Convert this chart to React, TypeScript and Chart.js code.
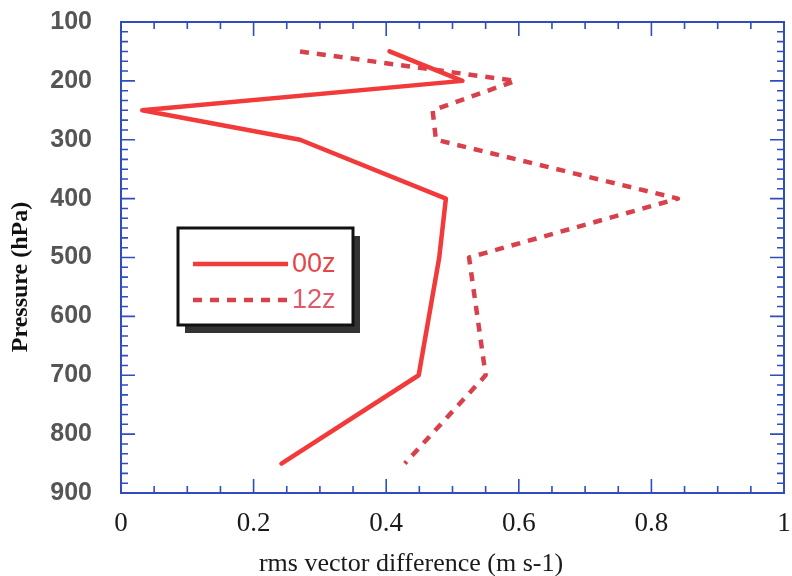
import React, { useEffect, useRef } from "react";
import { Chart, registerables } from "chart.js";

Chart.register(...registerables);

// Pressure levels (hPa)
const levels = [150, 200, 250, 300, 400, 500, 700, 850];
// rms vector difference (m s-1)
const rms00z = [0.405, 0.515, 0.032, 0.27, 0.49, 0.48, 0.449, 0.242];
const rms12z = [0.27, 0.595, 0.47, 0.475, 0.84, 0.525, 0.55, 0.428];
const seriesNames = ["00z", "12z"];
const xTitle = "rms vector difference (m s-1)";
const yTitle = "Pressure (hPa)";

const AXIS_BLUE = "#2f4cc0";
const RED_SOLID = "#f23a3a";
const RED_DASH = "#d8404c";

const framePlugin = {
  id: "frameTicks",
  afterDraw(chart: any) {
    const ctx = chart.ctx;
    const ca = chart.chartArea;
    const xs = chart.scales.x;
    const ys = chart.scales.y;
    ctx.save();
    ctx.strokeStyle = AXIS_BLUE;
    ctx.lineWidth = 2;
    ctx.strokeRect(ca.left, ca.top, ca.right - ca.left, ca.bottom - ca.top);
    ctx.lineWidth = 1.6;
    ctx.beginPath();
    // x ticks every 0.05, major every 0.2
    for (let i = 1; i < 20; i++) {
      const v = i * 0.05;
      const px = xs.getPixelForValue(v);
      const len = i % 4 === 0 ? 14 : 7;
      ctx.moveTo(px, ca.bottom);
      ctx.lineTo(px, ca.bottom - len);
      ctx.moveTo(px, ca.top);
      ctx.lineTo(px, ca.top + len);
    }
    // y ticks, 6 per 100 hPa
    for (let i = 1; i < 48; i++) {
      const v = 100 + (i * 100) / 6;
      const py = ys.getPixelForValue(v);
      const len = i % 6 === 0 ? 14 : 7;
      ctx.moveTo(ca.left, py);
      ctx.lineTo(ca.left + len, py);
      ctx.moveTo(ca.right, py);
      ctx.lineTo(ca.right - len, py);
    }
    ctx.stroke();

    // axis titles
    ctx.fillStyle = "#1a1a1a";
    ctx.font = "26px 'Liberation Serif', serif";
    ctx.textAlign = "center";
    ctx.textBaseline = "alphabetic";
    ctx.fillText(xTitle, 411, 571);

    ctx.save();
    ctx.translate(27, 277);
    ctx.rotate(-Math.PI / 2);
    ctx.font = "bold 24px 'Liberation Serif', serif";
    ctx.fillStyle = "#111";
    ctx.fillText(yTitle, 0, 0);
    ctx.restore();

    // legend box
    const bx = ca.left + 57;
    const by = ca.top + 206;
    const bw = 175;
    const bh = 97;
    ctx.fillStyle = "#333";
    ctx.fillRect(bx + 7, by + 8, bw, bh);
    ctx.fillStyle = "#fff";
    ctx.fillRect(bx, by, bw, bh);
    ctx.strokeStyle = "#111";
    ctx.lineWidth = 3;
    ctx.strokeRect(bx, by, bw, bh);

    const ds = chart.data.datasets;
    const rows = [by + 36, by + 72];
    ds.forEach((d: any, i: number) => {
      ctx.save();
      ctx.strokeStyle = d.borderColor;
      ctx.lineWidth = 4.5;
      ctx.setLineDash(d.borderDash || []);
      ctx.beginPath();
      ctx.moveTo(bx + 15, rows[i]);
      ctx.lineTo(bx + 110, rows[i]);
      ctx.stroke();
      ctx.restore();
      ctx.fillStyle = i === 0 ? "#e84444" : "#e05a6a";
      ctx.font = "27px 'Liberation Sans', Arial, sans-serif";
      ctx.textAlign = "left";
      ctx.textBaseline = "middle";
      ctx.fillText(d.label, bx + 114, rows[i] + 1);
    });
    ctx.restore();
  },
};

const zeroPad = (s: any) => {
  s.paddingTop = 0;
  s.paddingBottom = 0;
  s.paddingLeft = 0;
  s.paddingRight = 0;
};

export default function App() {
  const ref = useRef<HTMLCanvasElement | null>(null);
  useEffect(() => {
    if (!ref.current) return;
    const chart = new Chart(ref.current, {
      type: "scatter",
      data: {
        datasets: [
          {
            label: seriesNames[0],
            data: levels.map((p, i) => ({ x: rms00z[i], y: p })),
            showLine: true,
            borderColor: RED_SOLID,
            backgroundColor: RED_SOLID,
            borderWidth: 4.5,
            pointRadius: 0,
            borderJoinStyle: "round",
            borderCapStyle: "round",
          },
          {
            label: seriesNames[1],
            data: levels.map((p, i) => ({ x: rms12z[i], y: p })),
            showLine: true,
            borderColor: RED_DASH,
            backgroundColor: RED_DASH,
            borderWidth: 4.5,
            borderDash: [9, 8],
            borderJoinStyle: "round",
            pointRadius: 0,
          },
        ],
      },
      options: {
        animation: false,
        responsive: false,
        layout: { padding: { left: 0, top: 22, right: 8, bottom: 0 } },
        plugins: { legend: { display: false }, tooltip: { enabled: false } },
        scales: {
          x: {
            type: "linear",
            min: 0,
            max: 1,
            grid: { display: false },
            border: { display: false },
            ticks: {
              stepSize: 0.2,
              padding: 7,
              color: "#1a1a1a",
              font: { family: "'Liberation Serif', serif", size: 27 },
              callback: (v: any) => String(Number(Number(v).toFixed(2))),
            },
            afterFit: (s: any) => {
              s.height = 83;
              zeroPad(s);
            },
          },
          y: {
            type: "linear",
            reverse: true,
            min: 100,
            max: 900,
            grid: { display: false },
            border: { display: false },
            ticks: {
              stepSize: 100,
              padding: 21,
              color: "#555",
              font: { family: "'Liberation Sans', Arial, sans-serif", size: 25, weight: "bold" },
            },
            afterFit: (s: any) => {
              s.width = 121;
              zeroPad(s);
            },
          },
        },
      },
      plugins: [framePlugin],
    });
    return () => chart.destroy();
  }, []);
  return (
    <div style={{ position: "absolute", left: 0, top: 0, width: 792, height: 576, background: "#fff" }}>
      <canvas ref={ref} width={792} height={576} style={{ display: "block" }} />
    </div>
  );
}
